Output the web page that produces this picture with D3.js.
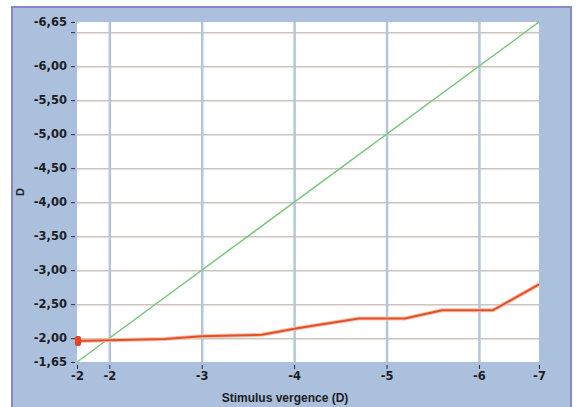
<meta charset="utf-8">
<script src="https://cdnjs.cloudflare.com/ajax/libs/d3/7.8.5/d3.min.js"></script>

<style>
  body {
    margin: 0;
    background-color: #ffffff;
  }

  .tickText {
    font-family: "DejaVu Sans", sans-serif;
    font-weight: bold;
    font-size: 11.5px;
    fill: #1d1d24;
  }
</style>

<div id="chart"></div>

<script>
// stimulus vs. accommodative response, both in dioptres
var stimulus = [-1.65, -2.0, -2.6, -3.0, -3.65, -4.05, -4.7, -5.2, -5.6, -6.15, -6.65];
var response = [-1.96, -1.97, -1.99, -2.03, -2.05, -2.15, -2.29, -2.29, -2.41, -2.41, -2.79];

// the ideal 1:1 line
var idealX = [-1.65, -6.65];
var idealY = [-1.65, -6.65];

var xTicks = [-1.65, -2, -3, -4, -5, -6, -6.65];
var yTicks = [-6.65, -6.5, -6, -5.5, -5, -4.5, -4, -3.5, -3, -2.5, -2, -1.65];

var margin = {top: 22, right: 38, bottom: 45, left: 77},
    width = 577 - margin.left - margin.right,
    height = 407 - margin.top - margin.bottom;

var svg = d3.select("#chart")
  .append("svg")
    .attr("width", 577)
    .attr("height", 407);

// blue frame behind everything
svg.append("rect")
  .attr("x", 12)
  .attr("y", 7)
  .attr("width", 559)
  .attr("height", 420)
  .attr("fill", "#abc0dc")
  .attr("stroke", "#8a86c9")
  .attr("stroke-width", 2);

var g = svg.append("g")
  .attr("transform", "translate(" + margin.left + "," + margin.top + ")");

var x = d3.scaleLinear()
  .domain([-1.65, -6.65])
  .range([0, width]);

var y = d3.scaleLinear()
  .domain([-1.65, -6.65])
  .range([height, 0]);

// white plot area
g.append("rect")
  .attr("width", width)
  .attr("height", height)
  .attr("fill", "#ffffff");

// horizontal gridlines (greyish)
g.append("g")
  .call(d3.axisLeft(y)
    .tickValues(yTicks.filter(function(d) { return d > -6.65 && d < -1.65; }))
    .tickSize(-width)
    .tickFormat(""))
  .call(function(a) { a.select(".domain").remove(); })
  .selectAll("line")
    .attr("stroke", "#cdc4bf")
    .attr("stroke-width", 1.5);

// vertical gridlines (blue)
g.append("g")
  .attr("transform", "translate(0," + height + ")")
  .call(d3.axisBottom(x)
    .tickValues(xTicks.filter(function(d) { return d < -1.65 && d > -6.65; }))
    .tickSize(-height)
    .tickFormat(""))
  .call(function(a) { a.select(".domain").remove(); })
  .selectAll("line")
    .attr("stroke", "#b3c5de")
    .attr("stroke-width", 2.5);

// Y axis
var commaFmt = function(d) {
  if (d === -6.5) return "";
  return d.toFixed(2).replace(".", ",");
};

var yAxis = g.append("g")
  .call(d3.axisLeft(y).tickValues(yTicks).tickSize(4).tickPadding(3).tickFormat(commaFmt));
yAxis.select(".domain").remove();
yAxis.selectAll("line").attr("stroke", "#2a2a35").attr("transform", "translate(-2,0)");
yAxis.selectAll("text").attr("class", "tickText").attr("dx", -3);

// X axis
var xAxis = g.append("g")
  .attr("transform", "translate(0," + (height + 3) + ")")
  .call(d3.axisBottom(x).tickValues(xTicks).tickSize(4).tickPadding(3)
    .tickFormat(function(d) { return String(Math.round(d)); }));
xAxis.select(".domain").remove();
xAxis.selectAll("line").attr("stroke", "#2a2a35");
xAxis.selectAll("text").attr("class", "tickText");

// ideal line
g.append("path")
  .datum(d3.zip(idealX, idealY))
  .attr("fill", "none")
  .attr("stroke", "#7cc77c")
  .attr("stroke-width", 1.5)
  .attr("d", d3.line()
    .x(function(d) { return x(d[0]); })
    .y(function(d) { return y(d[1]); }));

// measured response, with soft halo underneath
var pts = d3.zip(stimulus, response);
var respLine = d3.line()
  .x(function(d) { return x(d[0]); })
  .y(function(d) { return y(d[1]); });

g.append("path")
  .datum(pts)
  .attr("fill", "none")
  .attr("stroke", "#f7c0a8")
  .attr("stroke-width", 4)
  .attr("d", respLine);

g.append("path")
  .datum(pts)
  .attr("fill", "none")
  .attr("stroke", "#e2502a")
  .attr("stroke-width", 2)
  .attr("d", respLine);

// start marker
g.append("rect")
  .attr("x", x(stimulus[0]) - 2)
  .attr("y", y(response[0]) - 5)
  .attr("width", 6)
  .attr("height", 10)
  .attr("rx", 2)
  .attr("fill", "#e2452a");

// axis titles
svg.append("text")
  .attr("x", 285)
  .attr("y", 402)
  .attr("text-anchor", "middle")
  .attr("font-family", "Liberation Sans, Arial, sans-serif")
  .attr("font-weight", "bold")
  .attr("font-size", "12px")
  .attr("fill", "#1d1d24")
  .text("Stimulus vergence (D)");

svg.append("text")
  .attr("transform", "translate(24,192)rotate(-90)")
  .attr("text-anchor", "middle")
  .attr("font-family", "Liberation Sans, Arial, sans-serif")
  .attr("font-weight", "bold")
  .attr("font-size", "11px")
  .attr("fill", "#1d1d24")
  .text("D");
</script>
